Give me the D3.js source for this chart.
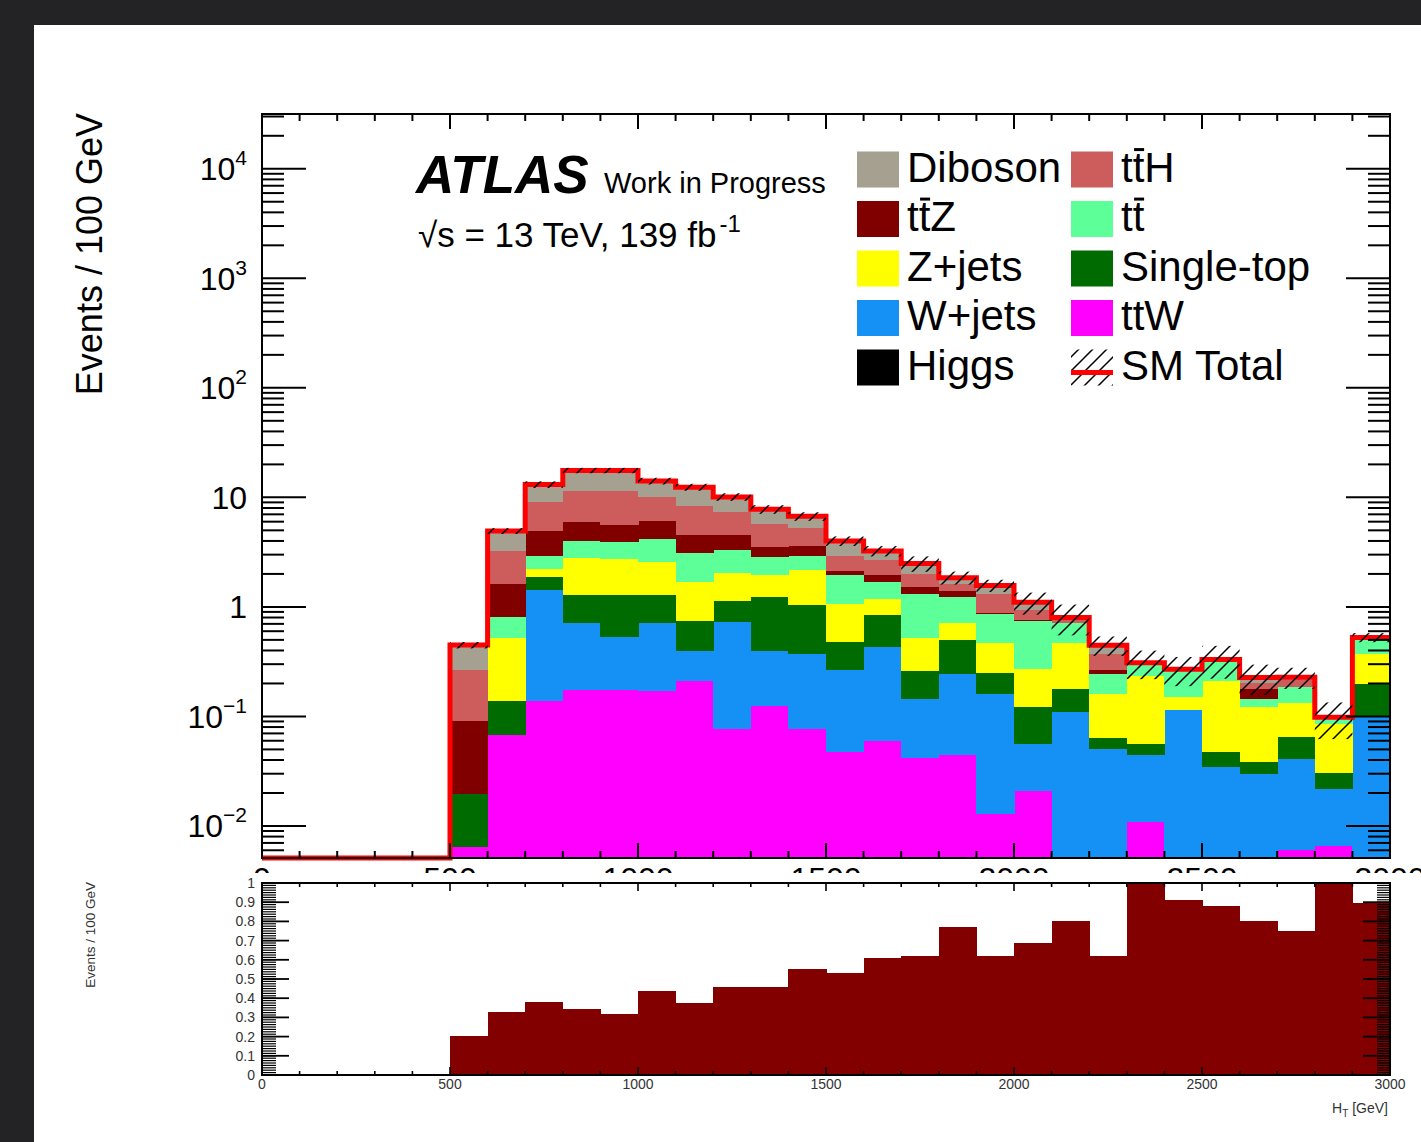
<!DOCTYPE html>
<html>
<head>
<meta charset="utf-8">
<script src="https://cdn.jsdelivr.net/npm/d3@7"></script>
<style>
  html, body { margin: 0; padding: 0; background: #232325; }
  svg { display: block; }
  text { font-family: "Liberation Sans", Arial, Helvetica, sans-serif; fill: #000; }
</style>
</head>
<body>
<svg id="chart" width="1421" height="1142"></svg>
<script>
// ---------------- data ----------------
// H_T bins: lower edges in GeV, each bin 100 GeV wide
const binLow = [500, 600, 700, 800, 900, 1000, 1100, 1200, 1300, 1400, 1500, 1600, 1700,
                1800, 1900, 2000, 2100, 2200, 2300, 2400, 2500, 2600, 2700, 2800, 2900];
const binWidth = 100;

// per-process event yields per bin (stacked bottom-up in this order)
const ttW       = [0.0065, 0.068, 0.138, 0.177, 0.174, 0.171, 0.210, 0.078, 0.125, 0.078, 0.048, 0.060, 0.042,
                   0.045, 0.013, 0.021, 0, 0, 0.011, 0, 0, 0, 0.0061, 0.0066, 0];
const Wjets     = [0, 0, 1.30, 0.538, 0.359, 0.544, 0.187, 0.652, 0.272, 0.298, 0.217, 0.372, 0.104,
                   0.198, 0.147, 0.035, 0.110, 0.051, 0.034, 0.116, 0.035, 0.030, 0.035, 0.0155, 0.099];
const singleTop = [0.0134, 0.070, 0.44, 0.565, 0.747, 0.565, 0.344, 0.42, 0.833, 0.664, 0.215, 0.425, 0.115,
                   0.261, 0.090, 0.067, 0.070, 0.013, 0.011, 0, 0.013, 0.0088, 0.024, 0.0085, 0.101];
const Zjets     = [0, 0.383, 0.36, 1.54, 1.48, 1.29, 0.969, 0.91, 0.72, 1.15, 0.59, 0.333, 0.26,
                   0.211, 0.22, 0.151, 0.29, 0.098, 0.177, 0.035, 0.163, 0.084, 0.067, 0.0545, 0.176];
const ttbar     = [0, 0.29, 0.68, 1.24, 1.16, 1.63, 1.39, 1.30, 0.95, 0.77, 0.88, 0.50, 0.80,
                   0.535, 0.40, 0.482, 0.245, 0.081, 0.076, 0.118, 0.12, 0.021, 0.055, 0.013, 0.15];
const ttZ       = [0.071, 0.82, 2.01, 1.90, 1.75, 1.88, 1.50, 1.24, 0.62, 0.69, 0.21, 0.26, 0.20,
                   0.17, 0.012, 0.01, 0.005, 0.026, 0, 0, 0, 0.036, 0, 0, 0];
const ttH       = [0.174, 1.61, 4.13, 5.64, 5.93, 4.02, 3.85, 2.75, 2.24, 1.65, 0.80, 0.76, 0.50,
                   0.21, 0.428, 0.18, 0.047, 0.107, 0, 0, 0, 0.024, 0.029, 0, 0];
const diboson   = [0.183, 1.69, 4.04, 6.0, 6.0, 4.0, 3.95, 2.75, 2.02, 1.41, 1.04, 0.53, 0.47,
                   0.22, 0.26, 0.154, 0.033, 0.071, 0, 0, 0, 0.023, 0.012, 0, 0];
const higgs     = [0, 0, 0, 0, 0, 0, 0, 0, 0, 0, 0, 0, 0,
                   0, 0, 0, 0, 0, 0, 0, 0, 0, 0, 0, 0];

// absolute uncertainty on the SM total per bin (hatched band)
const totalErr  = [0.03, 0.3, 0.9, 1.0, 1.0, 1.0, 0.9, 0.8, 0.7, 0.6, 0.4, 0.35, 0.4,
                   0.25, 0.2, 0.25, 0.25, 0.09, 0.09, 0.08, 0.11, 0.07, 0.05, 0.036, 0.05];

// lower panel histogram values
const lowerValues = [0.205, 0.33, 0.38, 0.345, 0.32, 0.44, 0.375, 0.46, 0.46, 0.55, 0.53, 0.61, 0.62,
                     0.77, 0.62, 0.69, 0.80, 0.62, 1.0, 0.91, 0.88, 0.80, 0.75, 1.0, 0.895];

// process definitions (stack order bottom-up)
const processes = [
  { key: "ttW",       values: ttW,       color: "#ff00ff", label: [{ s: "ttW" }] },
  { key: "Wjets",     values: Wjets,     color: "#1590f5", label: [{ s: "W+jets" }] },
  { key: "singleTop", values: singleTop, color: "#006b00", label: [{ s: "Single-top" }] },
  { key: "Zjets",     values: Zjets,     color: "#ffff00", label: [{ s: "Z+jets" }] },
  { key: "ttbar",     values: ttbar,     color: "#5cff98", label: [{ s: "t" }, { s: "t", bar: true }] },
  { key: "ttZ",       values: ttZ,       color: "#800000", label: [{ s: "t" }, { s: "t", bar: true }, { s: "Z" }] },
  { key: "ttH",       values: ttH,       color: "#cd5c5c", label: [{ s: "t" }, { s: "t", bar: true }, { s: "H" }] },
  { key: "diboson",   values: diboson,   color: "#a6a090", label: [{ s: "Diboson" }] },
  { key: "higgs",     values: higgs,     color: "#000000", label: [{ s: "Higgs" }] }
];

// legend layout: rows of [left, right] entries
const legendRows = [["diboson", "ttH"], ["ttZ", "ttbar"], ["Zjets", "singleTop"],
                    ["Wjets", "ttW"], ["higgs", "SMTotal"]];

const mainYTicks = [
  { v: 1e4, base: "10", exp: "4" }, { v: 1e3, base: "10", exp: "3" }, { v: 1e2, base: "10", exp: "2" },
  { v: 10, base: "10", exp: "" }, { v: 1, base: "1", exp: "" },
  { v: 0.1, base: "10", exp: "\u22121" }, { v: 0.01, base: "10", exp: "\u22122" }
];
const xTickLabels = [0, 500, 1000, 1500, 2000, 2500, 3000];
const lowerYTickLabels = [0, 0.1, 0.2, 0.3, 0.4, 0.5, 0.6, 0.7, 0.8, 0.9, 1];

// ---------------- layout ----------------
const W = 1421, H = 1142;
const svg = d3.select("#chart");

svg.append("rect").attr("width", W).attr("height", H).attr("fill", "#232325");
svg.append("rect").attr("x", 34).attr("y", 25).attr("width", W - 34).attr("height", H - 25).attr("fill", "#ffffff");

const defs = svg.append("defs");
const hs = 14;
const hatch = defs.append("pattern").attr("id", "hatch").attr("patternUnits", "userSpaceOnUse")
  .attr("width", hs).attr("height", hs);
hatch.append("path").attr("d", `M-3,3 L3,-3 M0,${hs} L${hs},0 M${hs - 3},${hs + 3} L${hs + 3},${hs - 3}`)
  .attr("stroke", "#000").attr("stroke-width", 1.5).attr("fill", "none");

const frame = { l: 262, r: 1390, t: 114, b: 858 };
const lower = { l: 262, r: 1390, t: 883, b: 1075 };

const x = d3.scaleLinear().domain([0, 3000]).range([frame.l, frame.r]);
const yMin = 0.0051, yMax = 31623;
const y = d3.scaleLog().domain([yMin, yMax]).range([frame.b, frame.t]).clamp(true);
const yLow = d3.scaleLinear().domain([0, 1]).range([lower.b, lower.t]);

// ---------------- main stacked histogram ----------------
const rows = binLow.map((lo, i) => {
  const r = { lo };
  processes.forEach(p => { r[p.key] = p.values[i]; });
  return r;
});
const stacked = d3.stack().keys(processes.map(p => p.key))(rows);

const gMain = svg.append("g").attr("shape-rendering", "crispEdges");
stacked.forEach((layer, li) => {
  const proc = processes[li];
  gMain.append("g").selectAll("rect")
    .data(layer.filter(d => d[1] - d[0] > 0))
    .join("rect")
    .attr("x", d => x(d.data.lo))
    .attr("width", d => x(d.data.lo + binWidth) - x(d.data.lo) + 0.5)
    .attr("y", d => y(d[1]))
    .attr("height", d => y(Math.max(d[0], yMin)) - y(d[1]) + 0.3)
    .attr("fill", proc.color);
});

const totals = rows.map(r => d3.sum(processes, p => r[p.key]));

// SM total outline
const stepPts = [[0, yMin]].concat(binLow.map((lo, i) => [lo, totals[i]]))
  .concat([[binLow[binLow.length - 1] + binWidth, totals[totals.length - 1]]]);
svg.append("path")
  .attr("d", d3.line().x(d => x(d[0])).y(d => y(d[1])).curve(d3.curveStepAfter)(stepPts))
  .attr("fill", "none").attr("stroke", "#ff0000").attr("stroke-width", 5);

// uncertainty band
svg.append("g").selectAll("rect")
  .data(binLow.map((lo, i) => ({ lo, t: totals[i], e: totalErr[i] })))
  .join("rect")
  .attr("x", d => x(d.lo))
  .attr("width", d => x(d.lo + binWidth) - x(d.lo))
  .attr("y", d => y(d.t + d.e))
  .attr("height", d => y(Math.max(d.t - d.e, yMin)) - y(d.t + d.e))
  .attr("fill", "url(#hatch)");

// ---------------- main axes ----------------
const axisG = svg.append("g").attr("stroke", "#000").attr("fill", "none");
axisG.append("rect").attr("x", frame.l).attr("y", frame.t)
  .attr("width", frame.r - frame.l).attr("height", frame.b - frame.t).attr("stroke-width", 2);

// log ticks on left and right
const majors = mainYTicks.map(t => t.v);
const minors = [];
for (let d = -3; d <= 4; d++) for (let k = 2; k <= 9; k++) {
  const v = k * Math.pow(10, d);
  if (v > yMin && v < yMax) minors.push(v);
}
majors.forEach(v => {
  axisG.append("line").attr("x1", frame.l).attr("x2", frame.l + 44).attr("y1", y(v)).attr("y2", y(v)).attr("stroke-width", 2);
  axisG.append("line").attr("x1", frame.r).attr("x2", frame.r - 44).attr("y1", y(v)).attr("y2", y(v)).attr("stroke-width", 2);
});
minors.forEach(v => {
  axisG.append("line").attr("x1", frame.l).attr("x2", frame.l + 22).attr("y1", y(v)).attr("y2", y(v)).attr("stroke-width", 2);
  axisG.append("line").attr("x1", frame.r).attr("x2", frame.r - 22).attr("y1", y(v)).attr("y2", y(v)).attr("stroke-width", 2);
});
// x ticks top and bottom
d3.range(0, 3001, 100).forEach(v => {
  const len = v % 500 === 0 ? 15 : 7;
  axisG.append("line").attr("x1", x(v)).attr("x2", x(v)).attr("y1", frame.t).attr("y2", frame.t + len).attr("stroke-width", 2);
  axisG.append("line").attr("x1", x(v)).attr("x2", x(v)).attr("y1", frame.b).attr("y2", frame.b - len).attr("stroke-width", 2);
});

// y tick labels
const yLab = svg.append("g").attr("font-size", 32).attr("text-anchor", "end");
mainYTicks.forEach(t => {
  const tx = yLab.append("text").attr("x", 247).attr("y", y(t.v) + 11.5);
  tx.append("tspan").text(t.base);
  if (t.exp) tx.append("tspan").attr("font-size", 21).attr("dy", -15).text(t.exp);
});

// x tick labels of the upper pad (partly hidden under the lower pad)
defs.append("clipPath").attr("id", "upperClip").append("rect")
  .attr("x", 0).attr("y", 0).attr("width", W).attr("height", 873);
const xLab = svg.append("g").attr("clip-path", "url(#upperClip)").attr("font-size", 32).attr("text-anchor", "middle");
xTickLabels.forEach(v => xLab.append("text").attr("x", x(v)).attr("y", 890).text(v));

// y axis title
svg.append("text").attr("transform", "translate(102,113) rotate(-90)")
  .attr("text-anchor", "end").attr("font-size", 36).text("Events / 100 GeV");

// ATLAS label
svg.append("text").attr("x", 416).attr("y", 193)
  .attr("font-size", 53).attr("font-weight", "bold").attr("font-style", "italic").text("ATLAS");
svg.append("text").attr("x", 604).attr("y", 193).attr("font-size", 29).text("Work in Progress");
const lumi = svg.append("text").attr("x", 418).attr("y", 247).attr("font-size", 35);
lumi.append("tspan").text("\u221As = 13 TeV, 139 fb");
lumi.append("tspan").attr("font-size", 24).attr("dx", 3).attr("dy", -15).text("-1");

// ---------------- legend ----------------
const legG = svg.append("g");
const colX = [{ box: 857, text: 907 }, { box: 1071, text: 1121 }];
const rowC = [169.5, 219, 268.5, 318, 367.5];
const legFs = 42;

function richLabel(g, x0, yb, parts, fs) {
  const t = g.append("text").attr("x", x0).attr("y", yb).attr("font-size", fs);
  parts.forEach(p => t.append("tspan").text(p.s));
  let idx = 0;
  const node = t.node();
  parts.forEach(p => {
    if (p.bar) {
      const off = idx > 0 ? node.getSubStringLength(0, idx) : 0;
      const w = node.getSubStringLength(idx, p.s.length);
      g.append("line").attr("x1", x0 + off + w * 0.12).attr("x2", x0 + off + w * 0.98)
        .attr("y1", yb - 0.76 * fs).attr("y2", yb - 0.76 * fs)
        .attr("stroke", "#000").attr("stroke-width", 3);
    }
    idx += p.s.length;
  });
}

legendRows.forEach((row, ri) => {
  row.forEach((key, ci) => {
    const cx = colX[ci], cy = rowC[ri];
    if (key === "SMTotal") {
      legG.append("rect").attr("x", cx.box).attr("y", cy - 18).attr("width", 42).attr("height", 36)
        .attr("fill", "url(#hatch)");
      legG.append("line").attr("x1", cx.box).attr("x2", cx.box + 42).attr("y1", cy + 5).attr("y2", cy + 5)
        .attr("stroke", "#ff0000").attr("stroke-width", 5);
      richLabel(legG, cx.text, cy + 12, [{ s: "SM Total" }], legFs);
    } else {
      const p = processes.find(q => q.key === key);
      legG.append("rect").attr("x", cx.box).attr("y", cy - 18).attr("width", 42).attr("height", 36)
        .attr("fill", p.color);
      richLabel(legG, cx.text, cy + 12, p.label, legFs);
    }
  });
});

// ---------------- lower panel ----------------
const gLow = svg.append("g").attr("shape-rendering", "crispEdges");
gLow.selectAll("rect")
  .data(binLow.map((lo, i) => ({ lo, v: lowerValues[i] })))
  .join("rect")
  .attr("x", d => x(d.lo))
  .attr("width", d => x(d.lo + binWidth) - x(d.lo) + 0.5)
  .attr("y", d => yLow(Math.min(d.v, 1)))
  .attr("height", d => yLow(0) - yLow(Math.min(d.v, 1)))
  .attr("fill", "#830000");

const lowAx = svg.append("g").attr("stroke", "#000").attr("fill", "none");
lowAx.append("rect").attr("x", lower.l).attr("y", lower.t)
  .attr("width", lower.r - lower.l).attr("height", lower.b - lower.t).attr("stroke-width", 2);
// dense minor ticks
d3.range(0, 80).forEach(i => {
  const v = i / 80;
  lowAx.append("line").attr("x1", lower.l).attr("x2", lower.l + 14).attr("y1", yLow(v)).attr("y2", yLow(v)).attr("stroke-width", 1.2);
  lowAx.append("line").attr("x1", lower.r).attr("x2", lower.r - 13).attr("y1", yLow(v)).attr("y2", yLow(v)).attr("stroke-width", 1.2);
});
lowerYTickLabels.forEach(v => {
  lowAx.append("line").attr("x1", lower.l).attr("x2", lower.l + 27).attr("y1", yLow(v)).attr("y2", yLow(v)).attr("stroke-width", 1.8);
  lowAx.append("line").attr("x1", lower.r).attr("x2", lower.r - 27).attr("y1", yLow(v)).attr("y2", yLow(v)).attr("stroke-width", 1.8);
});
d3.range(0, 3001, 100).forEach(v => {
  const len = v % 500 === 0 ? 8 : 4;
  lowAx.append("line").attr("x1", x(v)).attr("x2", x(v)).attr("y1", lower.t).attr("y2", lower.t + len).attr("stroke-width", 1.6);
  lowAx.append("line").attr("x1", x(v)).attr("x2", x(v)).attr("y1", lower.b).attr("y2", lower.b - len).attr("stroke-width", 1.6);
});

const lowLab = svg.append("g").attr("font-size", 14);
lowerYTickLabels.forEach(v => {
  lowLab.append("text").attr("x", 255).attr("y", yLow(v) + 5).attr("text-anchor", "end")
    .style("fill", "#333").text(String(v));
});
xTickLabels.forEach(v => {
  lowLab.append("text").attr("x", x(v)).attr("y", 1089).attr("text-anchor", "middle")
    .style("fill", "#333").text(v);
});
const htLab = lowLab.append("text").attr("x", 1388).attr("y", 1113).attr("text-anchor", "end").style("fill", "#333");
htLab.append("tspan").text("H");
htLab.append("tspan").attr("font-size", 10).attr("dy", 4).text("T");
htLab.append("tspan").attr("dy", -4).text(" [GeV]");

svg.append("text").attr("transform", "translate(95,882) rotate(-90)")
  .attr("text-anchor", "end").attr("font-size", 13.5).style("fill", "#333").text("Events / 100 GeV");
</script>
</body>
</html>
